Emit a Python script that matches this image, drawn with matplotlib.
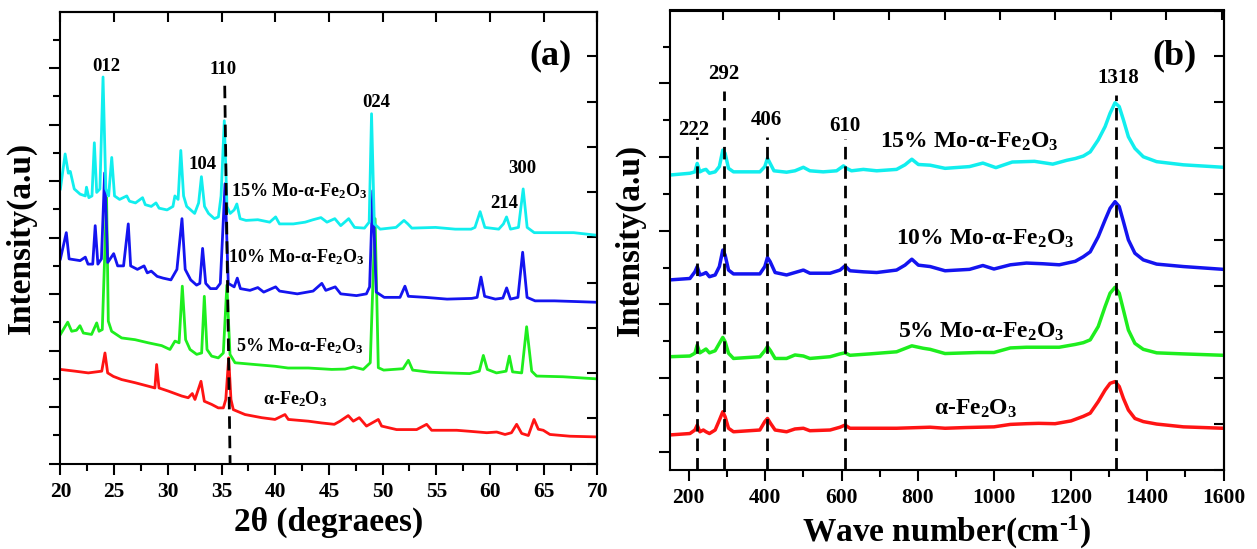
import numpy as np
import matplotlib
matplotlib.use('Agg')
import matplotlib.pyplot as plt
from matplotlib.ticker import MultipleLocator, NullFormatter

plt.rcParams['font.family'] = ['Liberation Serif', 'DejaVu Serif']
plt.rcParams['font.weight'] = 'bold'
plt.rcParams['mathtext.fontset'] = 'custom'
plt.rcParams['mathtext.rm'] = 'Liberation Serif:bold'
plt.rcParams['mathtext.it'] = 'Liberation Serif:bold'
plt.rcParams['mathtext.bf'] = 'Liberation Serif:bold'
plt.rcParams['mathtext.default'] = 'rm'

# ---------------- (a) XRD data: (2theta, intensity a.u.) ----------------
xrd_15 = [(20.0, 78.5), (20.44, 88.5), (20.74, 83.0), (20.92, 83.5), (21.29, 78.5), (21.84, 77.0),
          (22.32, 76.5), (22.43, 79.0), (22.65, 76.0), (22.94, 76.5), (23.16, 91.7), (23.38, 77.5),
          (23.68, 78.5), (23.97, 110.5), (24.23, 78.5), (24.49, 76.5), (24.78, 87.5), (25.04, 76.5),
          (25.51, 75.5), (26.18, 76.5), (26.43, 75.0), (26.99, 74.5), (27.65, 76.0), (27.90, 74.0),
          (28.46, 73.5), (28.90, 74.5), (29.19, 73.0), (29.93, 72.5), (30.48, 73.5), (30.66, 76.5),
          (30.96, 75.5), (31.21, 89.5), (31.47, 76.5), (31.76, 73.5), (32.50, 71.5), (32.87, 74.5),
          (33.13, 82.0), (33.42, 73.5), (33.79, 71.5), (34.34, 70.0), (34.71, 70.5), (34.96, 76.5),
          (35.26, 98.0), (35.51, 73.5), (35.81, 71.5), (36.18, 72.5), (36.43, 74.2), (36.73, 70.0),
          (37.28, 69.5), (38.38, 69.7), (39.49, 69.0), (40.04, 70.5), (40.40, 68.5), (41.69, 68.5),
          (42.79, 69.0), (43.53, 69.7), (44.26, 70.3), (44.82, 69.0), (45.55, 70.0), (46.10, 68.0),
          (46.84, 70.0), (47.39, 67.5), (48.31, 67.3), (48.75, 69.0), (48.97, 100.0), (49.23, 68.5),
          (49.78, 67.0), (51.25, 67.5), (51.99, 69.5), (52.35, 68.5), (52.72, 67.3), (54.93, 67.5),
          (56.76, 67.0), (58.24, 67.0), (58.60, 67.5), (59.08, 72.0), (59.52, 67.5), (60.81, 67.0),
          (61.25, 68.5), (61.54, 70.5), (61.91, 67.0), (62.65, 67.5), (63.09, 78.5), (63.46, 67.5),
          (64.12, 66.0), (65.96, 66.0), (67.79, 66.0), (69.82, 65.3)]

xrd_10 = [(20.0, 58.5), (20.55, 66.0), (20.81, 58.5), (21.84, 58.0), (22.32, 59.0), (22.57, 57.0),
          (23.01, 57.0), (23.24, 68.0), (23.49, 57.0), (23.82, 58.5), (24.12, 83.1), (24.41, 57.5),
          (24.96, 60.0), (25.33, 56.5), (25.88, 56.5), (26.32, 68.5), (26.54, 56.5), (27.17, 55.5),
          (27.79, 56.5), (28.09, 54.5), (28.46, 55.0), (29.01, 53.5), (29.56, 53.0), (30.29, 52.5),
          (30.85, 55.5), (31.32, 70.0), (31.62, 55.5), (32.13, 52.5), (32.68, 51.0), (32.98, 51.5),
          (33.24, 61.5), (33.53, 51.5), (33.97, 50.0), (34.52, 50.0), (34.89, 51.5), (35.33, 80.0),
          (35.63, 51.5), (36.18, 50.5), (36.47, 53.0), (36.76, 50.0), (37.65, 49.5), (38.38, 50.3),
          (38.93, 49.0), (40.04, 50.5), (40.40, 49.3), (42.06, 48.5), (43.53, 49.3), (44.34, 51.5),
          (44.71, 49.5), (45.59, 50.5), (46.10, 48.5), (47.57, 48.0), (48.49, 48.5), (48.79, 50.5),
          (49.08, 78.0), (49.41, 49.0), (50.15, 47.5), (51.62, 47.5), (52.08, 50.7), (52.40, 47.8),
          (54.0, 47.5), (56.0, 47.0), (58.3, 47.2), (58.8, 47.5), (59.16, 53.3), (59.5, 47.8),
          (60.5, 47.0), (61.2, 47.3), (61.55, 50.2), (61.9, 47.0), (62.6, 47.5), (63.04, 60.4),
          (63.45, 47.5), (64.2, 46.5), (66.0, 46.5), (68.0, 46.3), (69.9, 46.1)]

xrd_5 = [(20.0, 36.9), (20.68, 40.4), (21.05, 37.8), (21.5, 38.1), (21.82, 39.4), (22.14, 37.3),
         (22.9, 36.9), (23.38, 40.2), (23.6, 37.8), (23.9, 38.3), (24.3, 76.0), (24.46, 40.7),
         (24.77, 37.8), (25.7, 35.9), (26.95, 35.4), (28.19, 34.5), (29.43, 33.7), (30.2, 32.6),
         (30.67, 35.0), (31.05, 34.5), (31.35, 50.7), (31.66, 35.4), (32.07, 32.6), (32.69, 31.2),
         (33.15, 31.6), (33.4, 47.8), (33.65, 32.6), (34.08, 30.7), (34.7, 30.2), (35.17, 31.6),
         (35.5, 51.0), (35.79, 31.2), (36.26, 28.8), (38.1, 28.3), (39.98, 27.8), (41.2, 27.3),
         (43.1, 27.3), (45.26, 26.9), (46.5, 27.0), (47.27, 27.6), (48.2, 26.9), (48.85, 28.8),
         (49.3, 70.0), (49.6, 27.4), (50.1, 26.7), (51.9, 27.1), (52.4, 29.5), (52.8, 26.7),
         (54.4, 26.1), (55.96, 25.9), (58.1, 25.7), (59.0, 26.4), (59.38, 30.9), (59.75, 26.9),
         (60.6, 25.9), (61.5, 26.4), (61.8, 30.7), (62.1, 26.2), (62.95, 25.9), (63.41, 39.1),
         (63.88, 26.4), (64.34, 25.0), (66.8, 24.8), (69.93, 24.2)]

xrd_0 = [(20.0, 26.9), (21.36, 26.4), (22.6, 25.9), (23.85, 26.4), (24.15, 31.6), (24.4, 25.9),
         (24.93, 24.9), (25.7, 24.0), (26.95, 23.1), (28.19, 22.1), (28.8, 21.6), (28.96, 28.3),
         (29.18, 21.6), (30.05, 20.7), (31.29, 19.3), (31.9, 18.8), (32.28, 20.0), (32.53, 18.3),
         (33.09, 23.5), (33.4, 17.8), (34.08, 16.9), (34.7, 15.9), (35.17, 15.9), (35.4, 18.3),
         (35.67, 30.2), (35.88, 18.3), (36.1, 15.4), (37.19, 14.0), (38.74, 13.1), (39.98, 12.6),
         (40.91, 14.0), (41.22, 12.6), (43.09, 12.1), (44.3, 11.6), (45.5, 11.2), (46.03, 12.1),
         (46.8, 13.7), (47.27, 12.1), (47.83, 13.1), (48.5, 10.7), (49.6, 12.6), (49.91, 10.7),
         (51.3, 9.7), (53.17, 9.7), (54.1, 11.2), (54.57, 9.5), (56.9, 9.5), (58.14, 9.2),
         (59.7, 8.8), (60.62, 9.0), (61.4, 8.3), (62.0, 8.8), (62.48, 11.2), (62.95, 8.6),
         (63.57, 8.0), (64.1, 12.6), (64.5, 9.8), (64.96, 9.5), (65.58, 8.3), (67.45, 7.8),
         (69.93, 7.6)]

xrd_line_110 = [(35.30, 108.0), (35.80, 0.0)]

xrd_hkl = ['012', '110', '104', '024', '300', '214']
xrd_hkl_pos = [(24.3, 113.6), (35.17, 112.7), (33.25, 85.6), (49.45, 103.2), (63.05, 84.4), (61.3, 74.4)]

sample_names = ['15% Mo-α-Fe$_2$O$_3$', '10% Mo-α-Fe$_2$O$_3$', '5% Mo-α-Fe$_2$O$_3$', 'α-Fe$_2$O$_3$']
xrd_name_pos = [(35.9, 78.0), (35.65, 59.0), (36.35, 33.5), (38.86, 18.5)]

# ---------------- (b) Raman data: (wave number, intensity a.u.) ----------------
raman_0 = [(151, 10.0), (203, 10.4), (216, 11.4), (222, 12.8), (229, 10.9), (238, 11.4), (245, 10.9),
           (254, 10.4), (269, 11.4), (280, 14.2), (289, 16.6), (295, 15.2), (304, 11.9), (317, 10.9),
           (386, 11.4), (399, 13.8), (406, 14.7), (414, 13.3), (426, 11.4), (456, 10.9), (478, 11.7),
           (500, 11.9), (517, 11.2), (570, 11.4), (596, 12.2), (609, 12.8), (622, 11.9), (674, 11.9),
           (744, 11.9), (832, 12.2), (871, 11.9), (924, 12.1), (999, 12.3), (1042, 13.0), (1084, 13.2),
           (1116, 13.3), (1159, 13.2), (1201, 14.0), (1233, 15.3), (1251, 16.2), (1272, 19.5),
           (1290, 22.8), (1303, 24.7), (1316, 25.2), (1327, 23.8), (1338, 20.4), (1351, 17.1),
           (1368, 14.7), (1390, 13.8), (1425, 13.1), (1495, 12.3), (1600, 11.9)]

raman_5 = [(151, 32.3), (203, 32.5), (216, 33.3), (222, 35.6), (229, 33.4), (238, 34.0), (245, 34.5),
           (254, 33.4), (269, 34.0), (280, 36.1), (289, 37.8), (295, 36.6), (304, 33.3), (317, 31.8),
           (386, 32.3), (399, 34.0), (406, 35.2), (414, 34.0), (426, 31.8), (456, 31.8), (478, 32.8),
           (500, 32.5), (517, 31.8), (570, 32.3), (596, 33.1), (609, 33.4), (622, 32.7), (674, 33.1),
           (744, 33.7), (784, 35.4), (814, 34.7), (832, 34.4), (871, 33.2), (957, 33.5), (999, 33.5),
           (1042, 34.8), (1084, 35.0), (1127, 35.0), (1170, 35.0), (1212, 35.8), (1233, 36.3),
           (1251, 37.1), (1272, 40.9), (1290, 46.6), (1303, 50.4), (1316, 52.1), (1327, 50.4),
           (1338, 45.6), (1351, 39.9), (1368, 36.1), (1390, 34.4), (1425, 33.4), (1495, 33.1),
           (1600, 32.7)]

raman_10 = [(151, 54.2), (203, 54.6), (216, 56.5), (222, 58.0), (229, 55.6), (238, 55.9), (245, 56.3),
            (254, 55.1), (269, 55.6), (280, 58.0), (289, 62.7), (295, 61.3), (304, 57.0), (317, 55.9),
            (386, 55.9), (399, 58.0), (406, 60.6), (413, 59.4), (426, 56.3), (456, 55.6), (478, 56.3),
            (500, 57.0), (517, 56.1), (570, 56.1), (596, 57.0), (609, 58.2), (622, 56.8), (657, 56.5),
            (692, 56.3), (744, 57.0), (766, 58.4), (784, 60.1), (801, 58.4), (832, 58.0), (871, 56.8),
            (935, 57.2), (970, 58.3), (999, 57.3), (1042, 58.5), (1084, 59.0), (1127, 58.8),
            (1170, 58.5), (1212, 59.5), (1233, 60.8), (1251, 62.2), (1272, 66.5), (1290, 71.3),
            (1303, 74.6), (1316, 76.5), (1327, 75.1), (1338, 70.8), (1351, 65.6), (1368, 61.8),
            (1390, 59.9), (1425, 58.7), (1495, 58.0), (1600, 57.2)]

raman_15 = [(151, 84.1), (203, 84.6), (216, 85.0), (222, 87.4), (229, 85.0), (238, 85.5), (245, 85.7),
            (254, 84.6), (269, 85.0), (280, 86.5), (289, 91.2), (295, 90.3), (304, 86.0), (317, 85.0),
            (386, 85.0), (399, 86.5), (406, 88.9), (413, 87.4), (423, 85.3), (456, 84.9), (478, 85.3),
            (500, 86.3), (517, 85.3), (552, 85.0), (587, 85.3), (605, 86.7), (613, 86.0), (626, 85.3),
            (657, 85.7), (692, 85.3), (744, 85.7), (766, 87.0), (784, 88.6), (801, 87.1), (832, 86.9),
            (871, 86.0), (935, 86.5), (970, 87.5), (1004, 86.2), (1047, 87.8), (1105, 88.0),
            (1153, 87.2), (1190, 88.3), (1212, 88.8), (1233, 89.5), (1251, 90.7), (1272, 94.1),
            (1290, 97.9), (1303, 101.7), (1316, 104.7), (1327, 103.6), (1338, 99.8), (1351, 95.0),
            (1368, 91.7), (1390, 89.3), (1425, 87.9), (1495, 87.0), (1600, 86.3)]

raman_peaks = [222, 292, 406, 610, 1318]
raman_peak_tops = [95.0, 108.0, 95.0, 94.5, 107.0]
raman_peak_text = ['222', '292', '406', '610', '1318']
raman_peak_text_pos = [(214, 97.0), (291.6, 113.0), (403, 99.8), (609, 98.2), (1324, 111.8)]

raman_name_pos = [(701, 93.5), (742, 66.0), (749, 39.5), (843, 17.5)]

colors = ['#11EEEE', '#1414F0', '#1EEE1E', '#FF1414']  # 15%, 10%, 5%, 0%

# ---------------- figure ----------------
fig = plt.figure(figsize=(12.57, 5.49), dpi=100)
axA = fig.add_axes([60.4 / 1257, 1 - 463.5 / 549, (597.4 - 60.4) / 1257, (463.5 - 12.3) / 549])
axB = fig.add_axes([669.7 / 1257, 1 - 470 / 549, (1223.5 - 669.7) / 1257, (470 - 10.5) / 549])

tick_fs = 15.5
lab_fs = 24

# ---- panel (a)
for data, c in zip([xrd_0, xrd_5, xrd_10, xrd_15], colors[::-1]):
    d = np.array(data)
    axA.plot(d[:, 0], d[:, 1], color=c, lw=2.0, solid_joinstyle='round')
dl = np.array(xrd_line_110)
axA.plot(dl[:, 0], dl[:, 1], color='black', lw=2.0, dashes=(4.5, 2.5))
axA.set_xlim(20, 70)
axA.set_ylim(0, 129)
for t, (x, y) in zip(xrd_hkl, xrd_hkl_pos):
    axA.text(x, y, t, ha='center', va='center', fontsize=13.5, fontweight='bold')
for t, (x, y) in zip(sample_names, xrd_name_pos):
    axA.text(x, y, t, ha='left', va='center', fontsize=13, fontweight='bold')
axA.text(65.6, 116.5, '(a)', ha='center', va='center', fontsize=26, fontweight='bold')

axA.xaxis.set_major_locator(MultipleLocator(5))
axA.xaxis.set_minor_locator(MultipleLocator(2.5))
axA.yaxis.set_major_locator(MultipleLocator(16.15))
axA.yaxis.set_minor_locator(MultipleLocator(8.075))
axA.yaxis.set_major_formatter(NullFormatter())
axA.tick_params(which='major', direction='out', length=8, width=1.5, labelsize=tick_fs, pad=5)
axA.tick_params(which='minor', direction='out', length=5, width=1.5)
secA_x = axA.secondary_xaxis('top')
secA_x.xaxis.set_major_locator(MultipleLocator(5))
secA_x.xaxis.set_major_formatter(NullFormatter())
secA_x.tick_params(direction='in', length=7, width=1.5)
secA_y = axA.secondary_yaxis('right')
secA_y.yaxis.set_major_locator(MultipleLocator(12.93))
secA_y.yaxis.set_major_formatter(NullFormatter())
secA_y.tick_params(direction='in', length=7, width=1.5)
axA.set_xlabel('2θ (degraees)', fontsize=lab_fs, fontweight='bold', labelpad=4)
axA.set_ylabel('Intensity(a.u)', fontsize=lab_fs, fontweight='bold', labelpad=4)

# ---- panel (b)
for data, c in zip([raman_0, raman_5, raman_10, raman_15], colors[::-1]):
    d = np.array(data)
    axB.plot(d[:, 0], d[:, 1], color=c, lw=2.5, solid_joinstyle='round', solid_capstyle='round')
for x, top in zip(raman_peaks, raman_peak_tops):
    axB.plot([x, x], [0, top], color='black', lw=2.0, dashes=(4.5, 2.5))
axB.set_xlim(150, 1600)
axB.set_ylim(0, 131)
for t, (x, y) in zip(raman_peak_text, raman_peak_text_pos):
    axB.text(x, y, t, ha='center', va='center', fontsize=15, fontweight='bold')
for t, (x, y) in zip(sample_names, raman_name_pos):
    axB.text(x, y, t, ha='left', va='center', fontsize=17, fontweight='bold')
axB.text(1473, 118, '(b)', ha='center', va='center', fontsize=26, fontweight='bold')

axB.xaxis.set_major_locator(MultipleLocator(200))
axB.xaxis.set_minor_locator(MultipleLocator(100))
axB.yaxis.set_major_locator(MultipleLocator(21.0, offset=5.2))
axB.yaxis.set_minor_locator(MultipleLocator(10.5, offset=5.2))
axB.yaxis.set_major_formatter(NullFormatter())
axB.tick_params(which='major', direction='out', length=8, width=1.5, labelsize=tick_fs, pad=5)
axB.tick_params(which='minor', direction='out', length=5, width=1.5)
secB_x = axB.secondary_xaxis('top')
secB_x.xaxis.set_major_locator(MultipleLocator(145))
secB_x.xaxis.set_major_formatter(NullFormatter())
secB_x.tick_params(direction='in', length=7, width=1.5)
secB_y = axB.secondary_yaxis('right')
secB_y.yaxis.set_major_locator(MultipleLocator(13.1))
secB_y.yaxis.set_major_formatter(NullFormatter())
secB_y.tick_params(direction='in', length=7, width=1.5)
axB.set_xlabel(r'Wave number(cm$^{\text{-}1}$)', fontsize=lab_fs, fontweight='bold', labelpad=4)
axB.set_ylabel('Intensity(a.u)', fontsize=lab_fs, fontweight='bold', labelpad=4)

for ax in (axA, axB, secA_x, secA_y, secB_x, secB_y):
    for s in ax.spines.values():
        s.set_linewidth(1.5)

fig.savefig('out.png', dpi=100)
